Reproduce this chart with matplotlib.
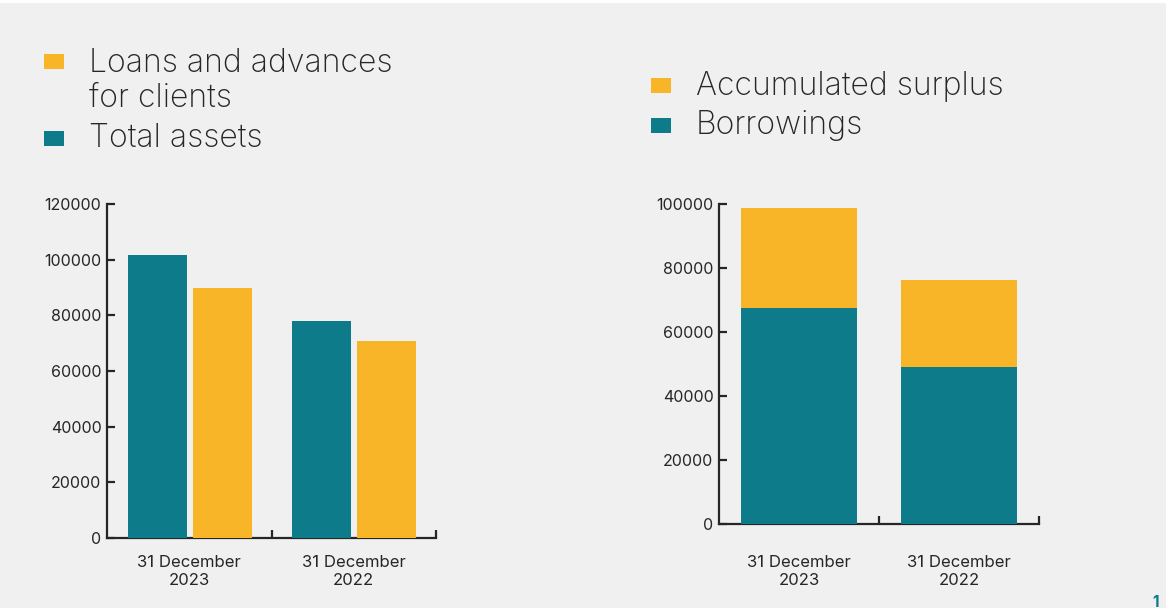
import matplotlib.pyplot as plt
import numpy as np
from matplotlib.patches import Rectangle
from matplotlib.ticker import FixedLocator

plt.rcParams['font.family'] = ['Inter', 'DejaVu Sans']

# data
dates = ['31 December\n2023', '31 December\n2022']
total_assets = [101700, 78000]
loans = [89800, 70800]
borrowings = [67700, 49200]
surplus = [31100, 27100]

teal = '#0d7b8a'
yellow = '#f9b528'
ink = '#262626'
bg = '#eff0ef'

fig = plt.figure(figsize=(11.66, 6.08), dpi=100, facecolor=bg)
fig.patches.append(Rectangle((0, 1 - 3 / 608), 1, 3 / 608, transform=fig.transFigure,
                             facecolor='white', edgecolor='none', zorder=0))

x = np.arange(len(dates))


def style(ax, ymax, step, pad):
    ax.set_facecolor(bg)
    ax.spines['top'].set_visible(False)
    ax.spines['right'].set_visible(False)
    for s in ['left', 'bottom']:
        ax.spines[s].set_color(ink)
        ax.spines[s].set_linewidth(1.6)
    ax.set_xlim(-0.5, 1.5)
    ax.set_ylim(0, ymax)
    ax.set_yticks(np.arange(0, ymax + 1, step))
    ax.tick_params(axis='y', direction='in', length=6, width=1.6, color=ink,
                   labelsize=11.5, labelcolor=ink, pad=4)
    ax.set_xticks(x)
    ax.set_xticklabels(dates, fontsize=12, color=ink, linespacing=1.3)
    ax.tick_params(axis='x', which='major', length=0, pad=pad)
    ax.xaxis.set_minor_locator(FixedLocator([0.5, 1.5]))
    ax.tick_params(axis='x', which='minor', direction='in', length=6, width=1.6, color=ink)


# left: grouped bars
ax1 = fig.add_axes([107 / 1166, 70 / 608, 329 / 1166, 334 / 608])
ax1.bar(x - 0.195, total_assets, 0.36, color=teal, zorder=3)
ax1.bar(x + 0.2, loans, 0.36, color=yellow, zorder=3)
style(ax1, 120000, 20000, 12)

# right: stacked bars
ax2 = fig.add_axes([719 / 1166, 83.7 / 608, 320 / 1166, 320 / 608])
ax2.bar(x, borrowings, 0.725, color=teal, zorder=3)
ax2.bar(x, surplus, 0.725, bottom=borrowings, color=yellow, zorder=3)
style(ax2, 100000, 20000, 22)


# legends drawn by hand
def key(xp, yp, color, label, ytext):
    fig.patches.append(Rectangle((xp / 1166, 1 - (yp + 15) / 608), 20 / 1166, 15 / 608,
                                 transform=fig.transFigure, facecolor=color,
                                 edgecolor='none'))
    fig.text(xp / 1166 + 45 / 1166, 1 - ytext / 608, label, fontsize=23, color=ink,
             va='baseline', ha='left', linespacing=1.15, fontweight='light')


key(44, 54, yellow, 'Loans and advances\nfor clients', 107)
key(44, 131, teal, 'Total assets', 147)
key(651, 78, yellow, 'Accumulated surplus', 95)
key(651, 118, teal, 'Borrowings', 134)

fig.text(1152 / 1166, 1 - 595 / 608, '1', fontsize=11, color=teal, fontweight='bold',
         va='top', ha='left')

fig.savefig('out.png', dpi=100, facecolor=bg)
